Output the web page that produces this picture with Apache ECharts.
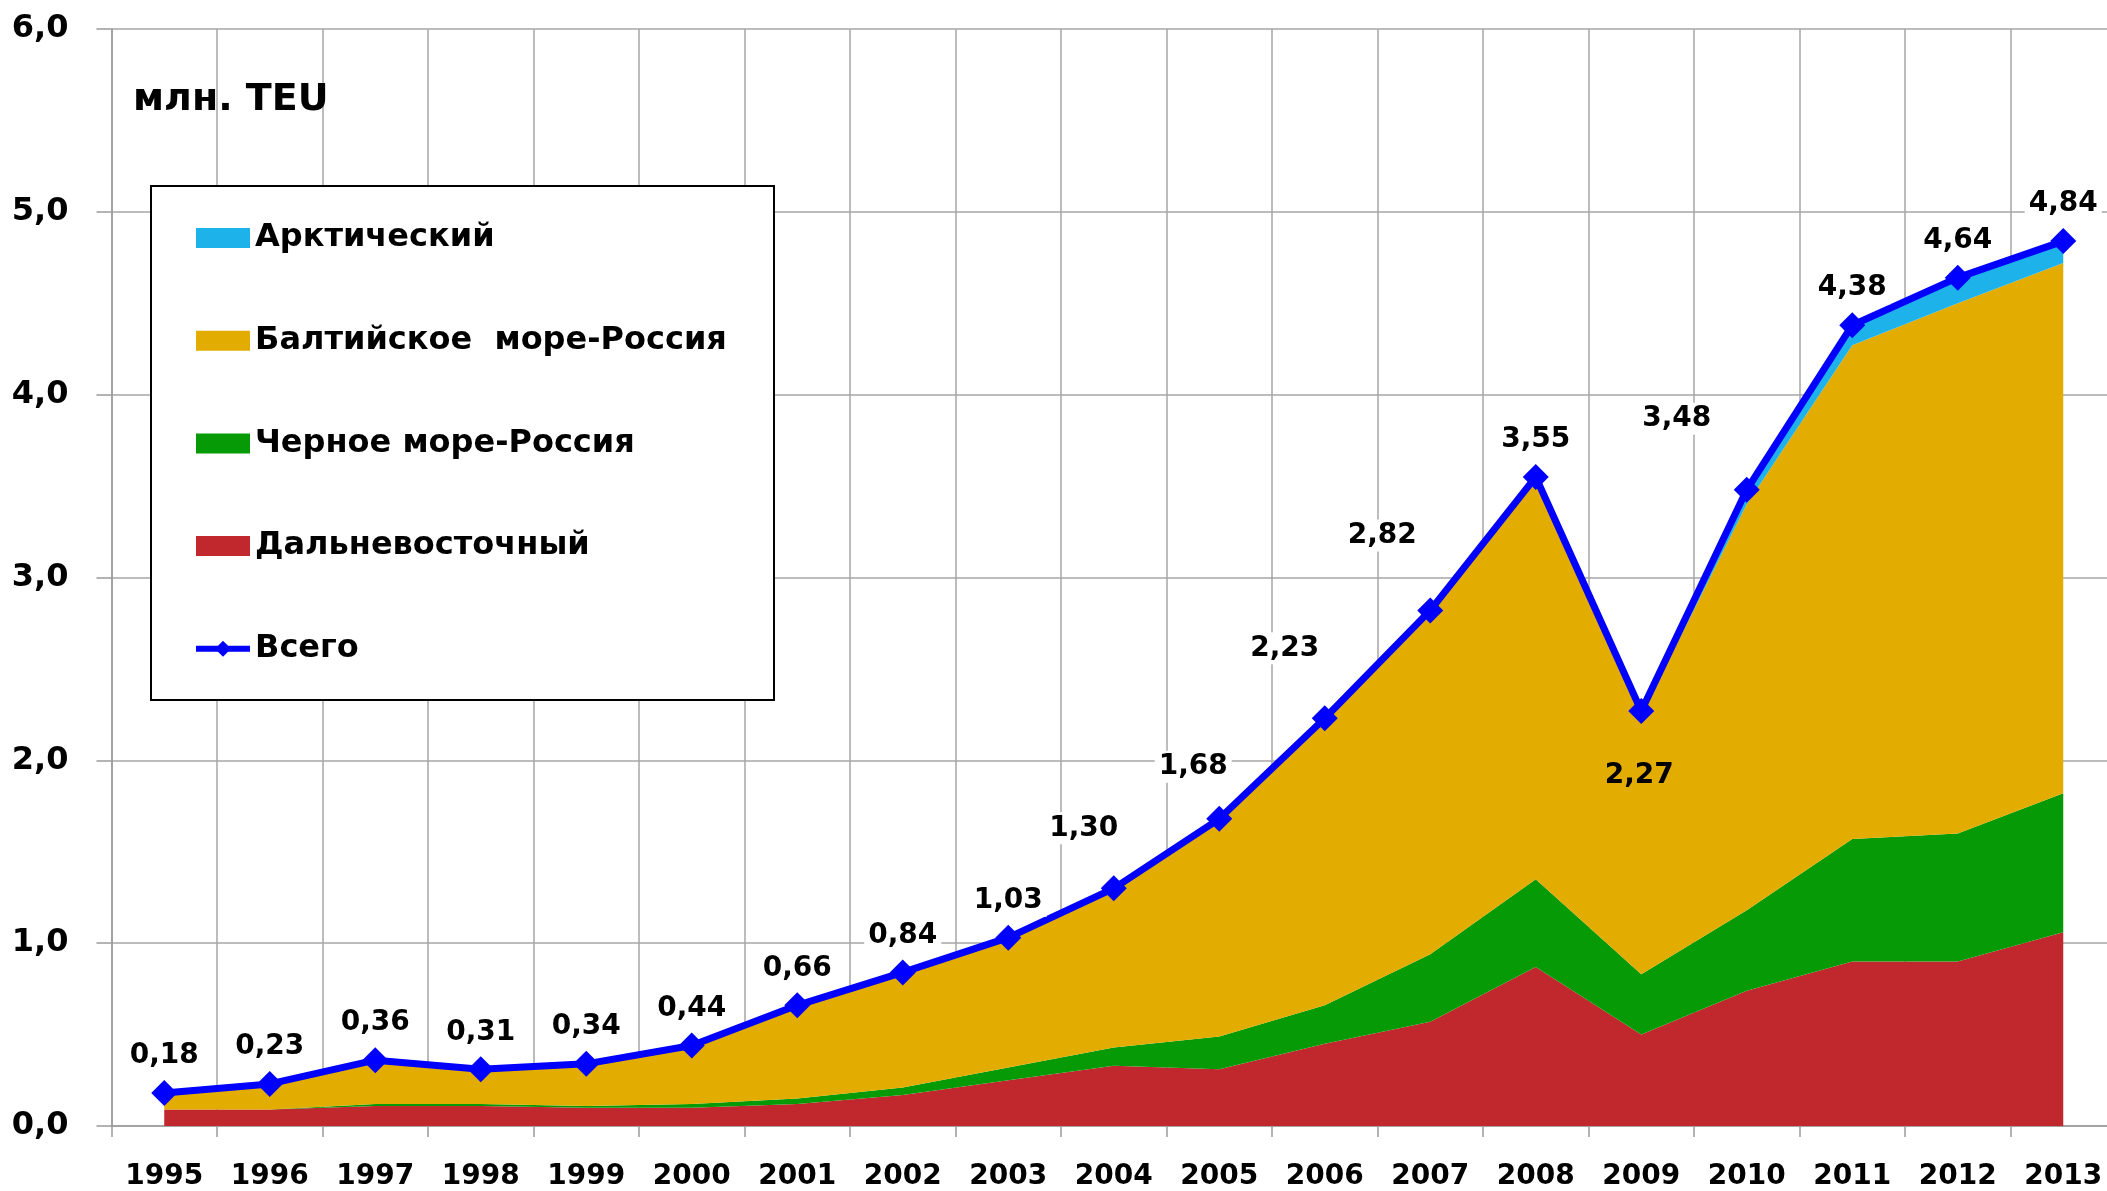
<!DOCTYPE html>
<html>
<head>
<meta charset="utf-8">
<script src="https://cdn.jsdelivr.net/npm/echarts@6/dist/echarts.min.js"></script>
<style>
  html, body { margin: 0; padding: 0; background: #fff; }
  #chart { width: 2107px; height: 1191px; }
</style>
</head>
<body>
<div id="chart"></div>
<script>
const years = ['1995', '1996', '1997', '1998', '1999', '2000', '2001', '2002', '2003', '2004',
  '2005', '2006', '2007', '2008', '2009', '2010', '2011', '2012', '2013'];
const farEast = [0.09, 0.09, 0.11, 0.11, 0.10, 0.10, 0.12, 0.17, 0.25, 0.33, 0.31, 0.45, 0.57, 0.87, 0.50, 0.74, 0.90, 0.90, 1.06];
const blackSea = [0.00, 0.00, 0.01, 0.01, 0.01, 0.02, 0.03, 0.04, 0.07, 0.10, 0.18, 0.21, 0.37, 0.48, 0.33, 0.44, 0.67, 0.70, 0.76];
const baltic = [0.09, 0.14, 0.24, 0.19, 0.23, 0.32, 0.51, 0.63, 0.71, 0.87, 1.19, 1.57, 1.87, 2.18, 1.42, 2.22, 2.70, 2.90, 2.90];
const arctic = [0, 0, 0, 0, 0, 0, 0, 0, 0, 0, 0, 0, 0.01, 0.02, 0.02, 0.08, 0.11, 0.14, 0.12];
const total = [0.18, 0.23, 0.36, 0.31, 0.34, 0.44, 0.66, 0.84, 1.03, 1.30, 1.68, 2.23, 2.82, 3.55, 2.27, 3.48, 4.38, 4.64, 4.84];
const yTicks = [0, 1, 2, 3, 4, 5, 6];

const FONT = 'DejaVu Sans';
// labels that Excel moved away from the default spot
const labelShift = {
  2004: { offset: [-30, -23] },
  2005: { offset: [-26, -15] },
  2006: { offset: [-40, -33] },
  2007: { offset: [-48, -38] },
  2009: { position: 'bottom', offset: [-2, 28], backgroundColor: 'transparent' },
  2010: { offset: [-70, -34] }
};

let myChart = null;

function comma(v, d) {
  return v.toFixed(d).replace('.', ',');
}

function areaSeries(name, values, color) {
  return {
    name: name,
    type: 'line',
    stack: 'teu',
    data: values,
    symbol: 'none',
    lineStyle: { width: 0 },
    itemStyle: { color: color },
    areaStyle: { color: color, opacity: 1 },
    z: 2
  };
}

function initChart() {
  const dom = document.getElementById('chart');
  if (dom) {
    myChart = echarts.init(dom);
    setOption();
  }
}

function setOption() {
  const totalData = total.map((v, i) => {
    const extra = labelShift[years[i]];
    return extra ? { value: v, label: extra } : v;
  });

  const options = {
    backgroundColor: '#fff',
    animation: false,
    title: {
      text: 'млн. TEU',
      left: 133,
      top: 78,
      padding: 0,
      textStyle: { fontFamily: FONT, fontWeight: 'bold', fontSize: 38, color: '#000', lineHeight: 44 }
    },
    grid: { left: 111.5, top: 29, right: -9, bottom: 65, containLabel: false, outerBoundsMode: 'none' },
    legend: {
      orient: 'vertical',
      left: 193,
      top: 218,
      padding: 0,
      z: 60,
      itemWidth: 54,
      itemHeight: 20,
      itemGap: 62.7,
      textStyle: { fontFamily: FONT, fontWeight: 'bold', fontSize: 32, color: '#000', lineHeight: 40, padding: [0, 0, 0, 0] },
      data: [
        { name: 'Арктический', icon: 'rect' },
        { name: 'Балтийское  море-Россия', icon: 'rect' },
        { name: 'Черное море-Россия', icon: 'rect' },
        { name: 'Дальневосточный', icon: 'rect' },
        { name: 'Всего', lineStyle: { width: 6 } }
      ]
    },
    graphic: {
      elements: [{
        type: 'rect',
        z: 50,
        shape: { x: 151, y: 186, width: 623, height: 514 },
        style: { fill: '#fff', stroke: '#000', lineWidth: 2 }
      }]
    },
    xAxis: {
      type: 'category',
      data: years,
      boundaryGap: true,
      axisLine: { lineStyle: { color: '#9a9a9a', width: 1.5 } },
      axisTick: { show: true, length: 11, lineStyle: { color: '#9a9a9a', width: 1.5 } },
      splitLine: { show: true, lineStyle: { color: '#a6a6a6', width: 1.5 } },
      axisLabel: { margin: 37, fontFamily: FONT, fontWeight: 'bold', fontSize: 28, color: '#000' }
    },
    yAxis: {
      type: 'value',
      min: yTicks[0],
      max: yTicks[yTicks.length - 1],
      interval: 1,
      axisLine: { show: true, lineStyle: { color: '#9a9a9a', width: 1.5 } },
      axisTick: { show: true, length: 15, lineStyle: { color: '#9a9a9a', width: 1.5 } },
      splitLine: { show: true, lineStyle: { color: '#a6a6a6', width: 1.5 } },
      axisLabel: {
        margin: 43,
        fontFamily: FONT, fontWeight: 'bold', fontSize: 32, color: '#000',
        formatter: (v) => comma(v, 1)
      }
    },
    series: [
      areaSeries('Дальневосточный', farEast, '#C1282D'),
      areaSeries('Черное море-Россия', blackSea, '#069A06'),
      areaSeries('Балтийское  море-Россия', baltic, '#E2AC00'),
      areaSeries('Арктический', arctic, '#1DB2EA'),
      {
        name: 'Всего',
        type: 'line',
        data: totalData,
        symbol: 'diamond',
        symbolSize: 26,
        z: 5,
        lineStyle: { color: '#0000FF', width: 7 },
        itemStyle: { color: '#0000FF' },
        label: {
          show: true,
          position: 'top',
          distance: 8,
          fontFamily: FONT,
          fontWeight: 'bold',
          fontSize: 28,
          color: '#000',
          backgroundColor: '#fff',
          padding: [2, 4],
          formatter: (p) => comma(p.value, 2)
        }
      }
    ]
  };
  if (myChart) {
    myChart.setOption(options);
  }
}

initChart();
</script>
</body>
</html>
